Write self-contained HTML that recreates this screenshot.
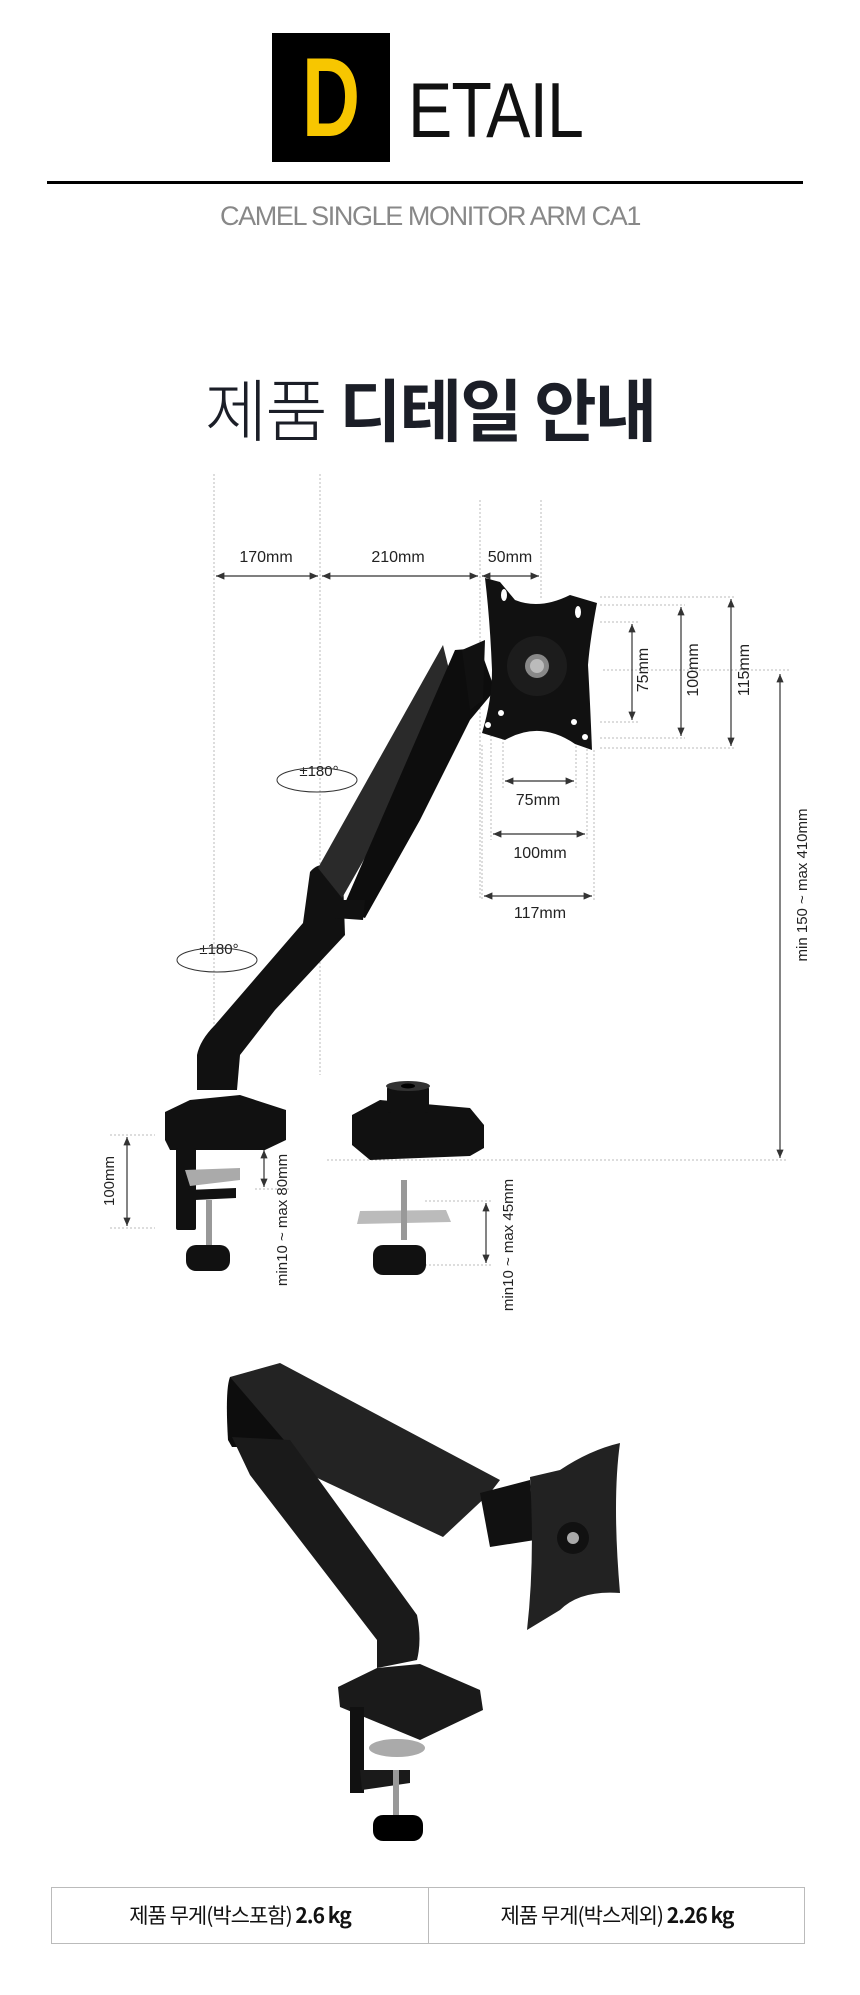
<!DOCTYPE html>
<html><head><meta charset="utf-8"><style>
html,body{margin:0;padding:0;background:#fff;}
body{width:860px;height:1995px;position:relative;overflow:hidden;font-family:"Liberation Sans","Noto Sans CJK KR",sans-serif;}
.a{position:absolute;}
</style></head><body>
<div class="a" style="left:272px;top:33px;width:118px;height:129px;background:#000;"></div>
<div class="a" style="left:272px;top:33px;width:118px;height:129px;color:#f7c600;font-size:112px;line-height:129px;text-align:center;font-weight:bold;font-family:'Liberation Sans',sans-serif;transform:scaleX(0.72);">D</div>
<div class="a" style="left:408px;top:72px;font-size:78px;line-height:76px;color:#111;transform:scaleX(0.85);transform-origin:left;letter-spacing:-1px;">ETAIL</div>
<div class="a" style="left:47px;top:181px;width:756px;height:3px;background:#000;"></div>
<div class="a" style="left:0;top:201px;width:860px;text-align:center;font-size:27px;color:#888;letter-spacing:-1.4px;">CAMEL SINGLE MONITOR ARM CA1</div>
<div class="a" style="left:0;top:362px;width:860px;text-align:center;font-size:68px;color:#1b1e27;line-height:90px;font-family:'Noto Sans CJK KR',sans-serif;letter-spacing:-2px;"><span style="font-weight:300">제품</span> <b>디테일 안내</b></div>

<svg class="a" style="left:0;top:0" width="860" height="1995" xmlns="http://www.w3.org/2000/svg" font-family="Liberation Sans, sans-serif">
<defs><marker id="ar" markerWidth="8" markerHeight="8" refX="7" refY="4" orient="auto-start-reverse"><path d="M0,1 L7,4 L0,7 Z" fill="#333"/></marker></defs>
<g stroke="#bbb" stroke-width="1" stroke-dasharray="2,2" fill="none">
<line x1="214" y1="474" x2="214" y2="1080"/><line x1="320" y1="474" x2="320" y2="1075"/>
<line x1="480" y1="500" x2="480" y2="900"/><line x1="541" y1="500" x2="541" y2="600"/>
<line x1="600" y1="597" x2="735" y2="597"/><line x1="600" y1="748" x2="735" y2="748"/>
<line x1="600" y1="605" x2="685" y2="605"/><line x1="600" y1="738" x2="685" y2="738"/>
<line x1="600" y1="622" x2="640" y2="622"/><line x1="600" y1="722" x2="640" y2="722"/>
<line x1="603" y1="670" x2="790" y2="670"/>
<line x1="503" y1="730" x2="503" y2="790"/><line x1="576" y1="730" x2="576" y2="790"/>
<line x1="491" y1="735" x2="491" y2="840"/><line x1="587" y1="745" x2="587" y2="840"/>
<line x1="482" y1="745" x2="482" y2="900"/><line x1="594" y1="750" x2="594" y2="900"/>
<line x1="327" y1="1160" x2="516" y2="1160"/><line x1="516" y1="1160" x2="788" y2="1160"/>
<line x1="110" y1="1135" x2="155" y2="1135"/><line x1="110" y1="1228" x2="155" y2="1228"/>
<line x1="255" y1="1189" x2="290" y2="1189"/>
<line x1="425" y1="1201" x2="492" y2="1201"/><line x1="425" y1="1265" x2="492" y2="1265"/>
</g>
<g stroke="#333" stroke-width="1.2" fill="none" marker-start="url(#ar)" marker-end="url(#ar)">
<line x1="216" y1="576" x2="318" y2="576"/><line x1="322" y1="576" x2="478" y2="576"/><line x1="482" y1="576" x2="539" y2="576"/>
<line x1="632" y1="624" x2="632" y2="720"/><line x1="681" y1="607" x2="681" y2="736"/><line x1="731" y1="599" x2="731" y2="746"/>
<line x1="780" y1="674" x2="780" y2="1158"/>
<line x1="505" y1="781" x2="574" y2="781"/><line x1="493" y1="834" x2="585" y2="834"/><line x1="484" y1="896" x2="592" y2="896"/>
<line x1="127" y1="1137" x2="127" y2="1226"/><line x1="264" y1="1150" x2="264" y2="1187"/><line x1="486" y1="1203" x2="486" y2="1263"/>
</g>
<g font-size="16" fill="#222" text-anchor="middle">
<text x="266" y="562">170mm</text><text x="398" y="562">210mm</text><text x="510" y="562">50mm</text>
<text x="538" y="805">75mm</text><text x="540" y="858">100mm</text><text x="540" y="918">117mm</text>
<text transform="translate(648,670) rotate(-90)">75mm</text>
<text transform="translate(698,670) rotate(-90)">100mm</text>
<text transform="translate(749,670) rotate(-90)">115mm</text>
<text transform="translate(807,885) rotate(-90)" font-size="15">min 150 ~ max 410mm</text>
<text transform="translate(114,1181) rotate(-90)" font-size="15">100mm</text>
<text transform="translate(287,1220) rotate(-90)" font-size="15">min10 ~ max 80mm</text>
<text transform="translate(513,1245) rotate(-90)" font-size="15">min10 ~ max 45mm</text>
<text x="319" y="776" font-size="15">±180°</text><text x="219" y="954" font-size="15">±180°</text>
</g>
<g stroke="#333" fill="none" stroke-width="1"><ellipse cx="317" cy="780" rx="40" ry="12"/><ellipse cx="217" cy="960" rx="40" ry="12"/></g>
<g fill="#111">
<path d="M197,1090 L197,1055 Q200,1040 215,1025 L303,923 L310,872 Q318,862 330,866 L343,878 L345,935 L275,1010 L240,1055 L237,1090 Z"/>
<path d="M318,868 L443,645 L456,698 L342,898 Z" fill="#2a2a2a"/>
<path d="M455,650 L480,648 L495,690 L470,720 L420,820 L365,918 L342,910 Z" fill="#0d0d0d"/>
<path d="M335,900 L365,900 L363,920 L335,918 Z"/>
<path d="M165,1112 L190,1100 L240,1095 L286,1110 L286,1140 L265,1150 L170,1150 L165,1140 Z"/>
<rect x="176" y="1148" width="20" height="82" rx="2"/>
<path d="M185,1170 L240,1168 L240,1180 L190,1186 Z" fill="#aaa"/>
<path d="M188,1190 L236,1188 L236,1198 L195,1200 Z"/>
<rect x="206" y="1200" width="6" height="48" fill="#999"/>
<rect x="186" y="1245" width="44" height="26" rx="10"/>
<path d="M352,1115 L380,1100 L470,1108 L484,1125 L484,1148 L470,1156 L370,1160 L352,1145 Z"/>
<rect x="387" y="1085" width="42" height="28" rx="4"/><ellipse cx="408" cy="1086" rx="22" ry="5" fill="#333"/><ellipse cx="408" cy="1086" rx="7" ry="2.5" fill="#000"/>
<path d="M360,1211 L446,1210 L451,1222 L357,1224 Z" fill="#bbb"/>
<rect x="401" y="1180" width="6" height="60" fill="#999"/>
<rect x="373" y="1245" width="53" height="30" rx="10"/>
<path d="M462,650 L485,640 L483,700 L470,710 Z"/>
<path d="M485,578 L500,582 L515,600 Q540,610 570,595 L597,603 Q590,640 588,665 Q590,700 592,750 L575,744 Q540,720 505,740 L482,733 Q492,700 492,670 Q490,620 485,578 Z"/>
<circle cx="537" cy="666" r="30" fill="#1c1c1c"/><circle cx="537" cy="666" r="12" fill="#888"/><circle cx="537" cy="666" r="7" fill="#bbb"/>
<g fill="#fff"><ellipse cx="504" cy="595" rx="3" ry="6"/><ellipse cx="578" cy="612" rx="3" ry="6"/><circle cx="501" cy="713" r="3"/><circle cx="488" cy="725" r="3"/><circle cx="574" cy="722" r="3"/><circle cx="585" cy="737" r="3"/></g>
</g>
<g fill="#1a1a1a">
<path d="M230,1377 L280,1363 L500,1480 L490,1493 L443,1537 L230,1437 Z" fill="#232323"/>
<path d="M230,1377 Q225,1390 228,1440 L232,1447 L290,1447 Z" fill="#0d0d0d"/>
<path d="M232,1437 L290,1440 L417,1615 Q422,1640 417,1660 L377,1668 L377,1640 L250,1475 Z"/>
<path d="M338,1687 L377,1668 L420,1664 L480,1690 L483,1710 L420,1740 L340,1707 Z"/>
<rect x="350" y="1707" width="14" height="86" fill="#111"/>
<ellipse cx="397" cy="1748" rx="28" ry="9" fill="#aaa"/>
<path d="M360,1770 L410,1770 L410,1783 L362,1790 Z"/>
<rect x="393" y="1770" width="6" height="50" fill="#999"/>
<rect x="373" y="1815" width="50" height="26" rx="10" fill="#000"/>
<path d="M480,1493 L530,1480 L535,1540 L490,1547 Z" fill="#111"/>
<path d="M530,1477 L560,1470 Q590,1450 620,1443 Q612,1500 620,1593 Q580,1590 560,1610 L527,1630 Q535,1560 530,1477 Z" fill="#222"/>
<circle cx="573" cy="1538" r="16" fill="#111"/><circle cx="573" cy="1538" r="6" fill="#aaa"/>
</g>
</svg>

<div class="a" style="left:51px;top:1887px;width:752px;height:55px;border:1px solid #bbb;"></div>
<div class="a" style="left:428px;top:1887px;width:1px;height:57px;background:#bbb;"></div>
<div class="a" style="left:51px;top:1900px;width:378px;text-align:center;font-size:21px;line-height:30px;color:#111;font-family:'Noto Sans CJK KR',sans-serif;letter-spacing:-1px;">제품 무게(박스포함) <b>2.6 kg</b></div>
<div class="a" style="left:429px;top:1900px;width:376px;text-align:center;font-size:21px;line-height:30px;color:#111;font-family:'Noto Sans CJK KR',sans-serif;letter-spacing:-1px;">제품 무게(박스제외) <b>2.26 kg</b></div>
</body></html>
